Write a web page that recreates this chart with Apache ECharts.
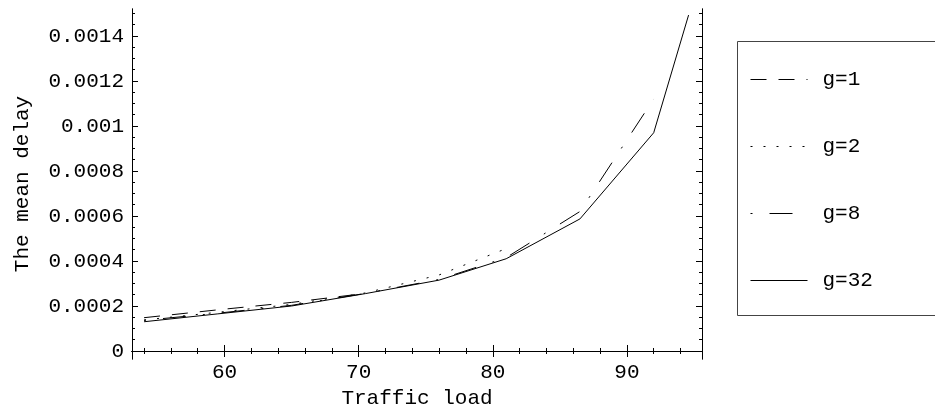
<!DOCTYPE html>
<html>
<head>
<meta charset="utf-8">
<script src="https://cdn.jsdelivr.net/npm/echarts@6/dist/echarts.min.js"></script>
<style>
  html, body { margin: 0; padding: 0; background: #fff; }
  #delayChart { width: 935px; height: 416px; }
</style>
</head>
<body>
<div id="delayChart"></div>
<script>
// traffic load (x) and mean delay (y) per g
var loadG1 = [54, 59.5, 65, 70.5];
var delayG1 = [0.000148, 0.000183, 0.000216, 0.000256];
var loadG2 = [54, 59.5, 65, 70.5, 76, 81];
var delayG2 = [0.000138, 0.000172, 0.000207, 0.000258, 0.000338, 0.000455];
var loadG8 = [54, 59.5, 65, 70.5, 76, 81, 86.5, 92];
var delayG8 = [0.000136, 0.000168, 0.000203, 0.000256, 0.000318, 0.000415, 0.00062, 0.00112];
var loadG32 = [54, 59.5, 65, 70.5, 76, 81, 86.5, 92, 94.6];
var delayG32 = [0.00013, 0.000165, 0.0002, 0.000255, 0.000315, 0.00041, 0.000587, 0.00097, 0.001493];

var xMajor = [60, 70, 80, 90];
var xMinor = [54, 56, 58, 62, 64, 66, 68, 72, 74, 76, 78, 82, 84, 86, 88, 92, 94];
var yMajor = [0, 0.0002, 0.0004, 0.0006, 0.0008, 0.001, 0.0012, 0.0014];
var yMinor = [0.00005, 0.0001, 0.00015, 0.00025, 0.0003, 0.00035, 0.00045, 0.0005, 0.00055,
    0.00065, 0.0007, 0.00075, 0.00085, 0.0009, 0.00095, 0.00105, 0.0011, 0.00115,
    0.00125, 0.0013, 0.00135, 0.00145, 0.0015];

var seriesNames = ['g=1', 'g=2', 'g=8', 'g=32'];

function pairs(xs, ys) {
    return xs.map(function (x, i) { return [x, ys[i]]; });
}

var monoFont = 'Liberation Mono';
var xMin = 53.1, xMax = 95.6, yMin = -0.0000356, yMax = 0.00152;

function xAxisDef(pos, ticks, len, withLabels) {
    return {
        type: 'value', position: pos, min: xMin, max: xMax,
        axisLine: { show: true, lineStyle: { color: '#000', width: 1 } },
        axisTick: { show: true, inside: true, length: len, customValues: ticks, lineStyle: { color: '#000' } },
        axisLabel: withLabels ? {
            show: true, customValues: ticks, margin: 3, color: '#000',
            fontFamily: monoFont, fontSize: 21
        } : { show: false },
        splitLine: { show: false }
    };
}

function yAxisDef(pos, ticks, len, withLabels) {
    return {
        type: 'value', position: pos, min: yMin, max: yMax,
        axisLine: { show: true, lineStyle: { color: '#000', width: 1 } },
        axisTick: { show: true, inside: true, length: len, customValues: ticks, lineStyle: { color: '#000' } },
        axisLabel: withLabels ? {
            show: true, customValues: ticks, margin: 8, color: '#000',
            fontFamily: monoFont, fontSize: 21,
            formatter: function (v) { return String(+(+v).toFixed(6)); }
        } : { show: false },
        splitLine: { show: false }
    };
}

var chart = echarts.init(document.getElementById('delayChart'));

var xBottom = xAxisDef('bottom', xMajor, 6, true);
xBottom.name = 'Traffic load';
xBottom.nameLocation = 'middle';
xBottom.nameGap = 25;
xBottom.nameTextStyle = { fontFamily: monoFont, fontSize: 21, color: '#000' };

var yLeft = yAxisDef('left', yMajor, 6, true);
yLeft.name = 'The mean delay';
yLeft.nameLocation = 'middle';
yLeft.nameGap = 99;
yLeft.nameTextStyle = { fontFamily: monoFont, fontSize: 21, color: '#000' };

var lineStyles = [
    { type: [16, 12] },
    { type: [2, 11] },
    { type: [2, 17, 23, 17] },
    { type: 'solid' }
];
var allData = [pairs(loadG1, delayG1), pairs(loadG2, delayG2), pairs(loadG8, delayG8), pairs(loadG32, delayG32)];

chart.setOption({
    animation: false,
    backgroundColor: '#fff',
    grid: { left: 132, right: 233, top: 9, bottom: 57, outerBoundsMode: 'none' },
    xAxis: [
        xBottom,
        xAxisDef('bottom', xMinor, 3, false),
        xAxisDef('top', xMajor, 6, false),
        xAxisDef('top', xMinor, 3, false)
    ],
    yAxis: [
        yLeft,
        yAxisDef('left', yMinor, 3, false),
        yAxisDef('right', yMajor, 6, false),
        yAxisDef('right', yMinor, 3, false)
    ],
    legend: {
        orient: 'vertical',
        left: 750,
        top: 69,
        padding: 0,
        itemWidth: 57,
        itemHeight: 20,
        itemGap: 46,
        data: seriesNames,
        itemStyle: { opacity: 0, borderWidth: 0 },
        lineStyle: { width: 1 },
        textStyle: { fontFamily: monoFont, fontSize: 21, color: '#000', padding: [0, 0, 0, 10] }
    },
    graphic: [{
        type: 'rect',
        shape: { x: 737.5, y: 41.5, width: 220, height: 274 },
        style: { fill: 'none', stroke: '#444', lineWidth: 1 },
        z: -1
    }],
    series: seriesNames.map(function (name, i) {
        return {
            name: name,
            type: 'line',
            xAxisIndex: 0,
            yAxisIndex: 0,
            symbol: 'none',
            data: allData[i],
            lineStyle: { color: '#000', width: 1, type: lineStyles[i].type },
            itemStyle: { color: '#000' }
        };
    })
});

window.addEventListener('resize', function () {
    chart.resize();
});
</script>
</body>
</html>
